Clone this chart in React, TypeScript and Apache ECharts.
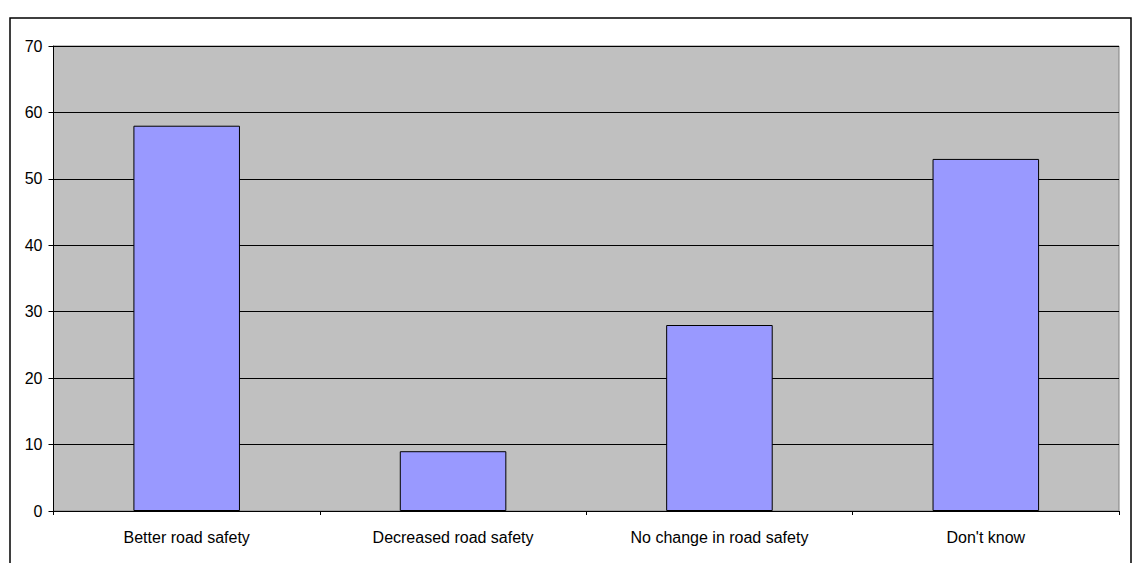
import React, { useEffect, useRef } from "react";
import * as echarts from "echarts";

const categories = [
  "Better road safety",
  "Decreased road safety",
  "No change in road safety",
  "Don't know",
];
const values = [58, 9, 28, 53];
const yTicks = { min: 0, max: 70, interval: 10 };

const FONT = "Arial, 'Liberation Sans', sans-serif";

export default function App() {
  const ref = useRef<HTMLDivElement>(null);

  useEffect(() => {
    if (!ref.current) return;
    const chart = echarts.init(ref.current, null, { renderer: "svg" });
    chart.setOption({
      animation: false,
      backgroundColor: "#ffffff",
      textStyle: { fontFamily: FONT },
      graphic: [
        {
          type: "rect",
          shape: { x: 10, y: 18, width: 1121, height: 600 },
          style: { fill: "none", stroke: "#000000", lineWidth: 1.5 },
          silent: true,
          z: 100,
        },
      ],
      grid: {
        left: 53.5,
        top: 46,
        right: 13,
        bottom: 52,
        show: true,
        backgroundColor: "#C0C0C0",
        borderColor: "#808080",
        borderWidth: 1,
      },
      xAxis: {
        type: "category",
        data: categories,
        boundaryGap: true,
        axisLine: { show: true, lineStyle: { color: "#000000", width: 1 } },
        axisTick: {
          show: true,
          inside: false,
          length: 4,
          alignWithLabel: false,
          lineStyle: { color: "#000000" },
        },
        axisLabel: {
          color: "#000000",
          fontSize: 16,
          fontFamily: FONT,
          margin: 18,
          interval: 0,
        },
        splitLine: { show: false },
      },
      yAxis: {
        type: "value",
        min: yTicks.min,
        max: yTicks.max,
        interval: yTicks.interval,
        axisLine: { show: true, lineStyle: { color: "#000000", width: 1 } },
        axisTick: {
          show: true,
          inside: false,
          length: 5,
          lineStyle: { color: "#000000" },
        },
        axisLabel: {
          color: "#000000",
          fontSize: 16,
          fontFamily: FONT,
          margin: 11,
        },
        splitLine: { show: true, lineStyle: { color: "#000000", width: 1 } },
      },
      series: [
        {
          type: "bar",
          data: values,
          barWidth: "40%",
          itemStyle: {
            color: "#9999FF",
            borderColor: "#000000",
            borderWidth: 1,
          },
        },
      ],
    });
    return () => chart.dispose();
  }, []);

  return (
    <div
      ref={ref}
      style={{
        position: "fixed",
        left: 0,
        top: 0,
        width: 1132,
        height: 563,
        background: "#ffffff",
      }}
    />
  );
}
